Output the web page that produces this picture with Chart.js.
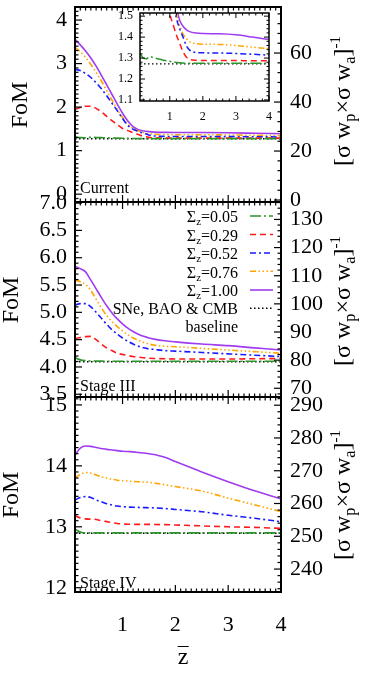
<!DOCTYPE html>
<html>
<head>
<meta charset="utf-8">
<script src="https://cdn.jsdelivr.net/npm/chart.js@4.4.0/dist/chart.umd.min.js"></script>
<style>
  html,body{margin:0;padding:0;background:#fff;}
  #wrap{position:relative;width:374px;height:674px;overflow:hidden;font-family:'Liberation Serif','DejaVu Serif',serif;color:#000;}
  canvas{position:absolute;left:0;top:0;}
  .t{position:absolute;white-space:nowrap;line-height:16px;font-size:16px;}
  .leg{position:absolute;right:136px;white-space:nowrap;font-size:16px;line-height:18px;text-align:right;}
  .rot{position:absolute;white-space:nowrap;font-size:24px;line-height:26px;transform:translate(-50%,-50%) rotate(-90deg);}
  sub{font-size:0.68em;vertical-align:-0.3em;line-height:0;}
  sup{font-size:0.62em;vertical-align:0.65em;line-height:0;}
</style>
</head>
<body>
<div id="wrap">
  <canvas id="c1" width="374" height="674"></canvas>
  <canvas id="c2" width="374" height="674"></canvas>
  <canvas id="c3" width="374" height="674"></canvas>
  <canvas id="c4" width="374" height="674"></canvas>

  <div class="t" style="left:80px;top:180px;">Current</div>
  <div class="t" style="left:80px;top:378px;">Stage III</div>
  <div class="t" style="left:80px;top:575px;">Stage IV</div>

  <div class="leg" style="top:208px;">Σ<sub>z</sub>=0.05</div>
  <div class="leg" style="top:226.5px;">Σ<sub>z</sub>=0.29</div>
  <div class="leg" style="top:245px;">Σ<sub>z</sub>=0.52</div>
  <div class="leg" style="top:263.5px;">Σ<sub>z</sub>=0.76</div>
  <div class="leg" style="top:282px;">Σ<sub>z</sub>=1.00</div>
  <div class="leg" style="top:299.5px;">SNe, BAO &amp; CMB</div>
  <div class="leg" style="top:318px;">baseline</div>

  <div class="rot" style="left:19px;top:105px;">FoM</div>
  <div class="rot" style="left:10px;top:300px;">FoM</div>
  <div class="rot" style="left:10px;top:495px;">FoM</div>

  <div class="rot" style="left:342px;top:101px;">[σ w<sub>p</sub>×σ w<sub>a</sub>]<sup>-1</sup></div>
  <div class="rot" style="left:342px;top:301px;">[σ w<sub>p</sub>×σ w<sub>a</sub>]<sup>-1</sup></div>
  <div class="rot" style="left:342px;top:495px;">[σ w<sub>p</sub>×σ w<sub>a</sub>]<sup>-1</sup></div>

  <div style="position:absolute;left:183px;top:646px;transform:translateX(-50%);font-size:24px;line-height:18px;"><span style="display:inline-block;border-top:1.5px solid #000;line-height:18px;">z</span></div>
</div>

<script>
// ---------- data ----------
const zGrid = [0.1,0.2,0.3,0.4,0.5,0.6,0.7,0.8,0.9,1.0,1.1,1.2,1.3,1.4,1.5,1.6,1.8,2.0,2.5,3.0,3.5,4.0];
const sigmaLabels = ['0.05','0.29','0.52','0.76','1.00'];

// Current
const cur005 = [1.322,1.300,1.297,1.307,1.302,1.298,1.294,1.290,1.287,1.284,1.281,1.279,1.277,1.276,1.275,1.275,1.275,1.275,1.275,1.275,1.275,1.275];
const cur029 = [1.95,1.99,2.02,2.02,1.97,1.89,1.79,1.69,1.60,1.51,1.46,1.41,1.37,1.33,1.305,1.294,1.289,1.288,1.288,1.288,1.287,1.287];
const cur052 = [2.87,2.84,2.77,2.68,2.56,2.42,2.26,2.09,1.92,1.74,1.58,1.49,1.44,1.40,1.36,1.338,1.327,1.325,1.324,1.322,1.318,1.314];
const cur076 = [3.37,3.27,3.14,2.98,2.80,2.60,2.38,2.16,1.95,1.76,1.60,1.51,1.455,1.415,1.392,1.378,1.369,1.366,1.365,1.360,1.352,1.345];
const cur100 = [3.56,3.43,3.29,3.13,2.94,2.73,2.51,2.29,2.07,1.86,1.68,1.55,1.48,1.452,1.436,1.426,1.419,1.417,1.416,1.411,1.400,1.388];
const curBaseline = 1.272;

// Stage III
const s3_005 = [4.17,4.13,4.115,4.11,4.108,4.106,4.105,4.105,4.105,4.105,4.105,4.105,4.105,4.105,4.105,4.105,4.105,4.105,4.105,4.105,4.105,4.105];
const s3_029 = [4.52,4.54,4.555,4.56,4.50,4.42,4.35,4.30,4.25,4.23,4.21,4.19,4.18,4.17,4.16,4.155,4.15,4.147,4.146,4.146,4.15,4.155];
const s3_052 = [5.13,5.16,5.16,5.10,5.00,4.89,4.78,4.68,4.60,4.53,4.47,4.42,4.38,4.35,4.33,4.32,4.30,4.29,4.265,4.24,4.215,4.19];
const s3_076 = [5.59,5.56,5.51,5.40,5.24,5.08,4.94,4.83,4.74,4.66,4.59,4.53,4.49,4.45,4.42,4.40,4.38,4.37,4.34,4.31,4.28,4.25];
const s3_100 = [5.84,5.80,5.74,5.59,5.43,5.27,5.12,4.99,4.88,4.79,4.71,4.65,4.60,4.56,4.53,4.51,4.48,4.46,4.42,4.39,4.35,4.31];
const s3Baseline = 4.096;

// Stage IV
const s4_005 = [12.96,12.915,12.90,12.90,12.90,12.90,12.90,12.90,12.90,12.90,12.90,12.90,12.90,12.90,12.90,12.90,12.90,12.90,12.90,12.90,12.90,12.90];
const s4_029 = [13.18,13.145,13.13,13.125,13.12,13.10,13.085,13.07,13.055,13.046,13.043,13.04,13.04,13.04,13.04,13.038,13.035,13.03,13.015,13.0,12.99,12.975];
const s4_052 = [13.44,13.48,13.495,13.48,13.44,13.41,13.38,13.357,13.34,13.33,13.325,13.32,13.318,13.315,13.313,13.31,13.30,13.285,13.247,13.19,13.14,13.084];
const s4_076 = [13.80,13.86,13.89,13.88,13.85,13.82,13.80,13.78,13.765,13.756,13.75,13.745,13.74,13.735,13.73,13.72,13.69,13.66,13.587,13.47,13.36,13.25];
const s4_100 = [14.18,14.29,14.325,14.32,14.30,14.285,14.27,14.26,14.25,14.24,14.235,14.23,14.22,14.21,14.20,14.185,14.14,14.07,13.90,13.74,13.59,13.456];
const s4Baseline = 12.893;

// tick labels
const xTicks = [1,2,3,4];
const curLeftTicks = [0,1,2,3,4];
const curRightTicks = [0,20,40,60];
const s3LeftTicks = [3.5,4.0,4.5,5.0,5.5,6.0,6.5,7.0];
const s3RightTicks = [70,80,90,100,110,120,130];
const s4LeftTicks = [12,13,14,15];
const s4RightTicks = [240,250,260,270,280,290];
const insetXTicks = [1,2,3,4];
const insetYTicks = [1.1,1.2,1.3,1.4,1.5];

// ---------- styling ----------
const SERIF = "'Liberation Serif','DejaVu Serif',serif";
Chart.defaults.font.family = SERIF;
Chart.defaults.color = '#000';
const lineStyles = [
  {color:'#2a962a', dash:[11,3,2,3]},
  {color:'#ff1a1a', dash:[6,4]},
  {color:'#1a1aff', dash:[6,3,2,3]},
  {color:'#ffa500', dash:[6,2.5,1.5,2.5,1.5,2.5,1.5,2.5]},
  {color:'#a03cf0', dash:[]}
];

function mkDatasets(series, baseline, lw) {
  const ds = series.map((vals, i) => ({
    label: 'Σz=' + sigmaLabels[i],
    data: zGrid.map((z, j) => ({x: z, y: vals[j]})),
    borderColor: lineStyles[i].color,
    borderDash: lineStyles[i].dash,
    borderWidth: lw,
    pointRadius: 0,
    fill: false,
    cubicInterpolationMode: 'monotone'
  }));
  ds.push({
    label: 'SNe, BAO & CMB baseline',
    data: [{x: zGrid[0], y: baseline}, {x: zGrid[zGrid.length - 1], y: baseline}],
    borderColor: '#000', borderDash: [1.5, 2.5], borderWidth: 1.4, pointRadius: 0, fill: false
  });
  return ds;
}

function makeFrame(spec) {
  return {
    id: 'frame',
    beforeDatasetsDraw(chart) {
      if (!spec.fill) return;
      const a = chart.chartArea, ctx = chart.ctx;
      ctx.save(); ctx.fillStyle = spec.fill;
      ctx.fillRect(a.left, a.top, a.right - a.left, a.bottom - a.top);
      ctx.restore();
    },
    afterDatasetsDraw(chart) {
      const a = chart.chartArea, ctx = chart.ctx;
      ctx.save();
      ctx.strokeStyle = '#000';
      spec.axes.forEach(ax => {
        const s = chart.scales[ax.id];
        const lo = Math.min(s.min, s.max), hi = Math.max(s.min, s.max);
        const k0 = Math.ceil(lo / ax.step - 1e-6);
        ctx.lineWidth = spec.tw;
        for (let k = k0; k * ax.step <= hi + 1e-9; k++) {
          const v = k * ax.step;
          const isMajor = ax.major.some(m => Math.abs(m - v) < ax.step / 10);
          const len = isMajor ? spec.majLen : spec.minLen;
          const p = s.getPixelForValue(v);
          ctx.beginPath();
          ax.sides.forEach(side => {
            if (side === 'left')   { ctx.moveTo(a.left, p);   ctx.lineTo(a.left + len, p); }
            if (side === 'right')  { ctx.moveTo(a.right, p);  ctx.lineTo(a.right - len, p); }
            if (side === 'top')    { ctx.moveTo(p, a.top);    ctx.lineTo(p, a.top + len); }
            if (side === 'bottom') { ctx.moveTo(p, a.bottom); ctx.lineTo(p, a.bottom - len); }
          });
          ctx.stroke();
        }
      });
      ctx.lineWidth = spec.lw;
      ctx.strokeRect(a.left, a.top, a.right - a.left, a.bottom - a.top);
      ctx.restore();
    }
  };
}

function makeLegendSamples(x0, x1, ys) {
  return {
    id: 'legendSamples',
    afterDraw(chart) {
      const ctx = chart.ctx;
      chart.data.datasets.forEach((ds, i) => {
        if (i >= ys.length) return;
        ctx.save();
        ctx.strokeStyle = ds.borderColor;
        ctx.lineWidth = ds.borderWidth;
        ctx.setLineDash(ds.borderDash || []);
        ctx.beginPath(); ctx.moveTo(x0, ys[i]); ctx.lineTo(x1, ys[i]); ctx.stroke();
        ctx.restore();
      });
    }
  };
}

function yAxis(pos, min, max, ticksArr, width, fmt, size, pad) {
  return {
    type: 'linear', position: pos, min: min, max: max,
    grid: {display: false, drawTicks: false}, border: {display: false},
    ticks: {font: {size: size, family: SERIF}, color: '#000', padding: pad, autoSkip: false,
            callback: (v) => fmt(v)},
    afterBuildTicks: (s) => { s.ticks = ticksArr.map(v => ({value: v})); },
    afterFit: (s) => { s.width = width; s.paddingTop = 0; s.paddingBottom = 0; }
  };
}

function xAxis(min, max, ticksArr, showLabels, height, size, pad) {
  return {
    type: 'linear', position: 'bottom', min: min, max: max,
    grid: {display: false, drawTicks: false}, border: {display: false},
    ticks: {display: showLabels, font: {size: size, family: SERIF}, color: '#000', padding: pad, autoSkip: false, maxRotation: 0,
            callback: (v) => String(v)},
    afterBuildTicks: (s) => { s.ticks = ticksArr.map(v => ({value: v})); },
    afterFit: (s) => { s.height = height; s.paddingLeft = 0; s.paddingRight = 0; }
  };
}

function panel(id, opts) {
  const plugins = [makeFrame(opts.frame)];
  if (opts.legend) plugins.push(opts.legend);
  return new Chart(document.getElementById(id), {
    type: 'line',
    data: {datasets: opts.datasets},
    options: {
      responsive: false, animation: false, devicePixelRatio: 1, events: [],
      layout: {padding: opts.padding},
      plugins: {legend: {display: false}, tooltip: {enabled: false}},
      scales: opts.scales
    },
    plugins: plugins
  });
}

const f0 = v => String(v);
const f1 = v => Number(v).toFixed(1);

// Panel 1 : Current
panel('c1', {
  datasets: mkDatasets([cur005, cur029, cur052, cur076, cur100], curBaseline, 1.6),
  padding: {top: 7, bottom: 472, left: 0, right: 0},
  scales: {
    x: xAxis(0.1, 4, xTicks, false, 0, 22, 20),
    y: yAxis('left', -0.18, 4.3, curLeftTicks, 75, f0, 22, 8),
    y2: yAxis('right', -0.8, 78.8, curRightTicks, 93, f0, 22, 9)
  },
  frame: {lw: 2, tw: 1.2, majLen: 7, minLen: 3.5, axes: [
    {id: 'x', major: xTicks, step: 0.1, sides: ['top', 'bottom']},
    {id: 'y', major: curLeftTicks, step: 0.1, sides: ['left']},
    {id: 'y2', major: curRightTicks, step: 4, sides: ['right']}
  ]}
});

// Panel 2 : Stage III
panel('c2', {
  datasets: mkDatasets([s3_005, s3_029, s3_052, s3_076, s3_100], s3Baseline, 1.6),
  padding: {top: 202, bottom: 277, left: 0, right: 0},
  scales: {
    x: xAxis(0.1, 4, xTicks, false, 0, 22, 20),
    y: yAxis('left', 3.45, 7.02, s3LeftTicks, 75, f1, 22, 8),
    y2: yAxis('right', 66.9, 136.2, s3RightTicks, 93, f0, 22, 9)
  },
  frame: {lw: 2, tw: 1.2, majLen: 7, minLen: 3.5, axes: [
    {id: 'x', major: xTicks, step: 0.1, sides: ['top', 'bottom']},
    {id: 'y', major: s3LeftTicks, step: 0.1, sides: ['left']},
    {id: 'y2', major: s3RightTicks, step: 2, sides: ['right']}
  ]},
  legend: makeLegendSamples(250, 273, [216, 234.5, 253, 271.3, 290, 308.3])
});

// Panel 3 : Stage IV
panel('c3', {
  datasets: mkDatasets([s4_005, s4_029, s4_052, s4_076, s4_100], s4Baseline, 1.6),
  padding: {top: 397, bottom: 22, left: 0, right: 0},
  scales: {
    x: xAxis(0.1, 4, xTicks, true, 60, 22, 20),
    y: yAxis('left', 11.93, 15.13, s4LeftTicks, 75, f0, 22, 8),
    y2: yAxis('right', 233.0, 292.5, s4RightTicks, 93, f0, 22, 9)
  },
  frame: {lw: 2, tw: 1.2, majLen: 7, minLen: 3.5, axes: [
    {id: 'x', major: xTicks, step: 0.1, sides: ['top', 'bottom']},
    {id: 'y', major: s4LeftTicks, step: 0.1, sides: ['left']},
    {id: 'y2', major: s4RightTicks, step: 2, sides: ['right']}
  ]}
});

// Inset of the Current panel
panel('c4', {
  datasets: mkDatasets([cur005, cur029, cur052, cur076, cur100], curBaseline, 1.5),
  padding: {top: 13, bottom: 543, left: 0, right: 105},
  scales: {
    x: xAxis(0.1, 4, insetXTicks, true, 30, 12, 9),
    y: yAxis('left', 1.095, 1.515, insetYTicks, 140, f1, 12, 7)
  },
  frame: {lw: 1.5, tw: 1, majLen: 5, minLen: 2.5, fill: '#ffffff', axes: [
    {id: 'x', major: insetXTicks, step: 0.2, sides: ['top', 'bottom']},
    {id: 'y', major: insetYTicks, step: 0.02, sides: ['left', 'right']}
  ]}
});
</script>
</body>
</html>
